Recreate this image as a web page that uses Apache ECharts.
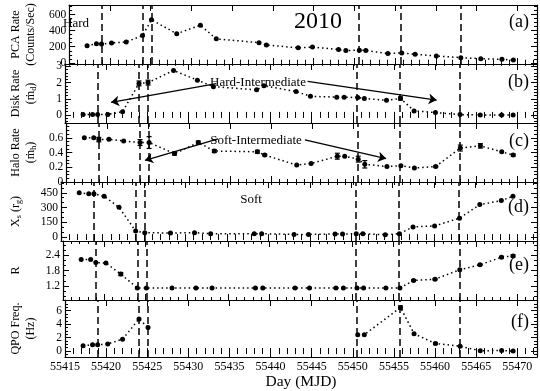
<!DOCTYPE html>
<html>
<head>
<meta charset="utf-8">
<script src="https://cdn.jsdelivr.net/npm/echarts@6/dist/echarts.min.js"></script>
<style>html,body{margin:0;padding:0;background:#fff}#main{width:540px;height:391px}</style>
</head>
<body>
<div id="main"></div>
<script>
// observation days (MJD)
var days = [55417.2, 55418.35, 55418.97, 55420.2, 55422.0, 55424.0, 55425.1, 55428.2, 55431.1, 55433.05,
    55438.3, 55439.2, 55443.1, 55444.85, 55448.05, 55448.95, 55450.6, 55451.4, 55454.1, 55455.8,
    55457.45, 55460.05, 55463.05, 55465.5, 55468.1, 55469.5];
var pcaRate = [213, 238, 234, 247, 260, 340, 536, 362, 468, 298, 251, 221, 187, 196, 166, 153, 157, 153, 115, 123, 106, 85, 64, 51, 43, 34];
var diskRate = [0.02, 0.02, 0.03, 0.03, 0.2, 1.95, 2.0, 2.75, 2.15, 1.75, 1.55, 1.8, 1.45, 1.15, 1.1, 1.1, 1.07, 1.02, 0.9, 1.02, 0.25, 0.15, 0.02, 0.0, 0.0, 0.0];
var diskErr = [0, 0, 0, 0, 0, 0.15, 0.15, 0, 0, 0, 0, 0, 0, 0, 0, 0, 0, 0, 0, 0.1, 0, 0, 0, 0, 0, 0];
var haloRate = [0.60, 0.60, 0.575, 0.58, 0.555, 0.535, 0.535, 0.385, 0.535, 0.42, 0.41, 0.365, 0.23, 0.25, 0.35, 0.35, 0.31, 0.24, 0.21, 0.22, 0.19, 0.21, 0.46, 0.49, 0.41, 0.365];
var haloErr = [0, 0, 0.03, 0, 0, 0.04, 0.08, 0.02, 0.02, 0.02, 0.02, 0.01, 0, 0, 0.04, 0, 0.04, 0.05, 0, 0, 0, 0.01, 0.04, 0.03, 0, 0.015];
var shockLoc = [450, 440, 440, 415, 302, 62, 45, 41, 45, 34, 34, 34, 27, 27, 31, 31, 34, 34, 24, 34, 103, 113, 192, 330, 371, 415];
var compRatio = [2.23, 2.23, 2.11, 2.09, 1.66, 1.12, 1.12, 1.12, 1.12, 1.12, 1.12, 1.12, 1.12, 1.12, 1.12, 1.12, 1.12, 1.12, 1.12, 1.12, 1.41, 1.46, 1.83, 2.02, 2.32, 2.37];
var compErr = [0, 0, 0, 0, 0.06, 0, 0, 0, 0, 0, 0, 0, 0, 0, 0, 0, 0, 0, 0, 0, 0.03, 0.03, 0, 0.02, 0.03, 0.04];
var qpoDays = [55417.2, 55418.35, 55418.97, 55420.2, 55422.0, 55424.0, 55425.1, 55450.6, 55451.4, 55455.8, 55457.45, 55460.05, 55463.05, 55465.5, 55468.1, 55469.5];
var qpoFreq = [0.78, 0.92, 0.92, 1.06, 1.76, 4.78, 3.5, 2.44, 2.44, 6.48, 2.58, 1.12, 0.72, 0.04, 0.09, 0.0];
var qpoErr = [0, 0, 0, 0, 0, 0, 0, 0, 0, 0.25, 0, 0.15, 0, 0, 0, 0];
var transitions = [55419.0, 55424.0, 55425.1, 55450.5, 55455.7, 55463.0];
var panelTags = ['(a)', '(b)', '(c)', '(d)', '(e)', '(f)'];

var FONT = "'Liberation Serif', 'DejaVu Serif', serif";
var chart = echarts.init(document.getElementById('main'));

var panels = [
    {name: 'PCA Rate\n(Counts/Sec)', min: -15, max: 720, major: 200, minor: 50, gap: 27, minLabel: false},
    {name: 'Disk Rate\n(ṁ{sub|d})', min: -0.5, max: 3.15, major: 1, minor: 0.2, gap: 27, minLabel: false},
    {name: 'Halo Rate\n(ṁ{sub|h})', min: 0, max: 0.8, major: 0.2, minor: 0.05, gap: 27, minLabel: true},
    {name: 'X{sub|s} (r{sub|g})', min: -40, max: 560, major: 150, minor: 50, gap: 38, minLabel: false},
    {name: 'R', min: 0.65, max: 2.95, major: 0.6, minor: 0.2, gap: 40, minLabel: false},
    {name: 'QPO Freq.\n(Hz)', min: -0.9, max: 7.6, major: 2, minor: 0.5, gap: 27, minLabel: false}
];
var xs = [days, days, days, days, days, qpoDays];
var ys = [pcaRate, diskRate, haloRate, shockLoc, compRatio, qpoFreq];
var errs = [null, diskErr, haloErr, null, compErr, qpoErr];

var grids = [], xAxes = [], yAxes = [], series = [];
var lineColor = '#000';

panels.forEach(function (p, i) {
    grids.push({left: 56, right: 3, top: 5 + i * 59, height: 59});
    var last = i === panels.length - 1;
    ['bottom', 'top'].forEach(function (pos) {
        xAxes.push({
            type: 'value', gridIndex: i, position: pos, min: 55415, max: 55472.4, interval: 5,
            axisLine: {show: true, onZero: false, lineStyle: {color: lineColor, width: 1.2}},
            axisTick: {inside: true, length: 6, lineStyle: {color: lineColor, width: 1}},
            axisLabel: {show: last && pos === 'bottom', showMaxLabel: false, color: '#000', fontFamily: FONT, fontSize: 12, margin: 4,
                formatter: function (v) { return String(v); }},
            splitLine: {show: false},
            name: last && pos === 'bottom' ? 'Day (MJD)' : '',
            nameLocation: 'middle', nameGap: 16,
            nameTextStyle: {fontFamily: FONT, fontSize: 15.5, color: '#000'}
        });
        xAxes.push({
            type: 'value', gridIndex: i, position: pos, min: 55415, max: 55472.4, interval: 1,
            axisLine: {show: false},
            axisTick: {inside: true, length: 3, lineStyle: {color: lineColor, width: 1}},
            axisLabel: {show: false}, splitLine: {show: false}
        });
    });
    ['left', 'right'].forEach(function (pos) {
        yAxes.push({
            type: 'value', gridIndex: i, position: pos, min: p.min, max: p.max,
            minInterval: p.major, maxInterval: p.major,
            axisLine: {show: true, onZero: false, lineStyle: {color: lineColor, width: 1.2}},
            axisTick: {inside: true, length: 6, lineStyle: {color: lineColor, width: 1}},
            axisLabel: {show: pos === 'left', showMinLabel: p.minLabel, showMaxLabel: false,
                color: '#000', fontFamily: FONT, fontSize: 11.5, margin: 3},
            splitLine: {show: false},
            name: pos === 'left' ? p.name : '',
            nameLocation: 'middle', nameGap: p.gap, nameRotate: 90,
            nameTextStyle: {fontFamily: FONT, fontSize: 12, color: '#000', lineHeight: 15,
                rich: {sub: {fontFamily: FONT, fontSize: 8, color: '#000', verticalAlign: 'bottom', lineHeight: 15}}}
        });
        yAxes.push({
            type: 'value', gridIndex: i, position: pos, min: p.min, max: p.max,
            minInterval: p.minor, maxInterval: p.minor,
            axisLine: {show: false},
            axisTick: {inside: true, length: 3, lineStyle: {color: lineColor, width: 1}},
            axisLabel: {show: false}, splitLine: {show: false}
        });
    });

    var markData = transitions.map(function (d) { return {xAxis: d}; });
    if (i === 1) {
        markData.push([{coord: [55433.4, 1.93], symbol: 'none', lineStyle: {type: 'solid', width: 1.3}}, {coord: [55420.6, 0.78], symbol: 'arrow'}]);
        markData.push([{coord: [55444.5, 2.08], symbol: 'none', lineStyle: {type: 'solid', width: 1.3}}, {coord: [55460.2, 0.92], symbol: 'arrow'}]);
    }
    if (i === 2) {
        markData.push([{coord: [55433.5, 0.584], symbol: 'none', lineStyle: {type: 'solid', width: 1.3}}, {coord: [55424.6, 0.294], symbol: 'arrow'}]);
        markData.push([{coord: [55444.1, 0.57], symbol: 'none', lineStyle: {type: 'solid', width: 1.3}}, {coord: [55454.0, 0.317], symbol: 'arrow'}]);
    }

    // break the dotted line where there is a long gap without a measurement
    var pts = [];
    xs[i].forEach(function (d, k) {
        if (k > 0 && d - xs[i][k - 1] > 10) pts.push([d, '-']);
        pts.push([d, ys[i][k]]);
    });

    series.push({
        type: 'line', xAxisIndex: 4 * i, yAxisIndex: 4 * i,
        data: pts, connectNulls: false,
        symbol: 'circle', symbolSize: 5, showSymbol: true,
        itemStyle: {color: '#000'},
        lineStyle: {color: '#000', width: 1.5, type: [1.5, 3]},
        z: 4,
        markLine: {
            silent: true, symbol: ['none', 'none'], symbolSize: 8, animation: false,
            label: {show: false},
            lineStyle: {color: '#000', width: 1.5, type: [7, 4]},
            emphasis: {disabled: true},
            data: markData
        }
    });

    if (errs[i]) {
        var eData = [];
        xs[i].forEach(function (d, k) { if (errs[i][k] > 0) eData.push([d, ys[i][k], errs[i][k]]); });
        series.push({
            type: 'custom', xAxisIndex: 4 * i, yAxisIndex: 4 * i, data: eData, z: 5, silent: true,
            encode: {x: 0, y: 1},
            renderItem: function (params, api) {
                var x = api.value(0), y = api.value(1), e = api.value(2);
                var t = api.coord([x, y + e]), b = api.coord([x, y - e]);
                var c = 2.5, st = {stroke: '#000', lineWidth: 1.2};
                return {type: 'group', children: [
                    {type: 'line', shape: {x1: t[0], y1: t[1], x2: b[0], y2: b[1]}, style: st},
                    {type: 'line', shape: {x1: t[0] - c, y1: t[1], x2: t[0] + c, y2: t[1]}, style: st},
                    {type: 'line', shape: {x1: b[0] - c, y1: b[1], x2: b[0] + c, y2: b[1]}, style: st}
                ]};
            }
        });
    }
});

var tagY = [22, 82, 141, 207, 265, 322];
var graphic = panelTags.map(function (t, i) {
    return {type: 'text', x: 529, y: tagY[i], style: {text: t, font: '18px ' + FONT, fill: '#000', align: 'right', verticalAlign: 'middle'}};
});
graphic.push({type: 'text', x: 318, y: 22, style: {text: '2010', font: '24px ' + FONT, fill: '#000', align: 'center', verticalAlign: 'middle'}});
graphic.push({type: 'text', x: 63, y: 24, style: {text: 'Hard', font: '13px ' + FONT, fill: '#000', align: 'left', verticalAlign: 'middle'}});
graphic.push({type: 'text', x: 258, y: 83, style: {text: 'Hard-Intermediate', font: '13px ' + FONT, fill: '#000', align: 'center', verticalAlign: 'middle'}});
graphic.push({type: 'text', x: 256, y: 141, style: {text: 'Soft-Intermediate', font: '13px ' + FONT, fill: '#000', align: 'center', verticalAlign: 'middle'}});
graphic.push({type: 'text', x: 251, y: 200, style: {text: 'Soft', font: '13px ' + FONT, fill: '#000', align: 'center', verticalAlign: 'middle'}});

chart.setOption({
    animation: false,
    backgroundColor: '#fff',
    grid: grids,
    xAxis: xAxes,
    yAxis: yAxes,
    series: series,
    graphic: graphic
});
</script>
</body>
</html>
